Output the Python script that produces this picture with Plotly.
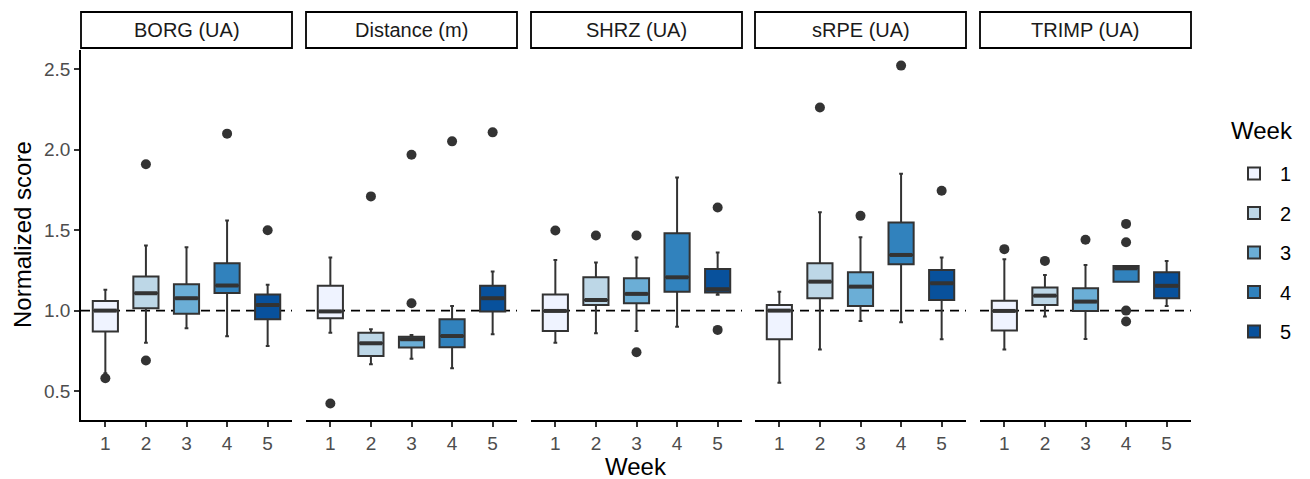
import plotly.graph_objects as go

# ---------------- data ----------------
metrics = ["BORG (UA)", "Distance (m)", "SHRZ (UA)", "sRPE (UA)", "TRIMP (UA)"]
weeks = [1, 2, 3, 4, 5]
week_colors = ["#EFF3FF", "#BDD7E7", "#6BAED6", "#3182BD", "#08519C"]

# per metric (rows) and week (columns)
lower_whisker = [
    [0.61, 0.80, 0.89, 0.84, 0.78],
    [0.863, 0.666, 0.70, 0.641, 0.853],
    [0.80, 0.859, 0.873, 0.90, 1.098],
    [0.552, 0.759, 0.936, 0.927, 0.822],
    [0.759, 0.963, 0.824, 1.18, 1.029],
]
q1 = [
    [0.87, 1.015, 0.98, 1.11, 0.946],
    [0.952, 0.718, 0.77, 0.772, 0.994],
    [0.873, 1.035, 1.046, 1.118, 1.112],
    [0.822, 1.077, 1.029, 1.288, 1.066],
    [0.876, 1.035, 0.998, 1.18, 1.077],
]
median = [
    [1.0, 1.108, 1.077, 1.156, 1.035],
    [0.995, 0.797, 0.822, 0.842, 1.077],
    [0.998, 1.066, 1.104, 1.207, 1.133],
    [1.0, 1.18, 1.149, 1.346, 1.17],
    [0.998, 1.093, 1.056, 1.263, 1.154],
]
q3 = [
    [1.06, 1.212, 1.164, 1.295, 1.10],
    [1.154, 0.863, 0.838, 0.946, 1.154],
    [1.10, 1.207, 1.201, 1.481, 1.259],
    [1.035, 1.295, 1.239, 1.548, 1.253],
    [1.062, 1.143, 1.139, 1.278, 1.239],
]
upper_whisker = [
    [1.13, 1.405, 1.394, 1.56, 1.16],
    [1.33, 0.884, 0.849, 1.029, 1.243],
    [1.315, 1.299, 1.33, 1.828, 1.361],
    [1.118, 1.612, 1.456, 1.851, 1.33],
    [1.32, 1.222, 1.284, 1.278, 1.309],
]
outlier_weeks = [
    [1, 2, 2, 4, 5],
    [1, 2, 3, 3, 4, 5],
    [1, 2, 3, 3, 5, 5],
    [2, 3, 4, 5],
    [1, 2, 3, 4, 4, 4, 4],
]
outlier_values = [
    [0.58, 1.91, 0.69, 2.10, 1.50],
    [0.423, 1.71, 1.969, 1.046, 2.052, 2.108],
    [1.498, 1.467, 1.467, 0.741, 1.641, 0.88],
    [2.263, 1.589, 2.523, 1.745],
    [1.382, 1.309, 1.44, 1.539, 1.425, 1.0, 0.932],
]
y_ticks = [0.5, 1.0, 1.5, 2.0, 2.5]
reference_line = 1.0

# ---------------- layout constants ----------------
W, H = 1310, 479
FONT = "Liberation Sans, Arial, sans-serif"
EDGE = "#333333"
panel_left = [81, 306, 531, 755, 980]
panel_w = 211
plot_top, plot_bottom = 50, 420
strip_top, strip_bottom = 12, 48
box_w = 0.62

fig = go.Figure()

for i, m in enumerate(metrics):
    ax = "" if i == 0 else str(i + 1)
    xa, ya = "x" + ax, "y" + ax
    for j, w in enumerate(weeks):
        fig.add_trace(go.Box(
            x=[w], q1=[q1[i][j]], median=[median[i][j]], q3=[q3[i][j]],
            lowerfence=[lower_whisker[i][j]], upperfence=[upper_whisker[i][j]],
            width=box_w, whiskerwidth=0.15, boxpoints=False,
            fillcolor=week_colors[j], line=dict(color=EDGE, width=2),
            name=str(w), legendgroup=str(w), showlegend=(i == 0),
            xaxis=xa, yaxis=ya,
        ))
        # thicker median line (ggplot style)
        fig.add_trace(go.Scatter(
            x=[w - box_w / 2 + 0.03, w + box_w / 2 - 0.03],
            y=[median[i][j], median[i][j]],
            mode="lines", line=dict(color=EDGE, width=4),
            showlegend=False, hoverinfo="skip", xaxis=xa, yaxis=ya,
        ))
    fig.add_trace(go.Scatter(
        x=outlier_weeks[i], y=outlier_values[i], mode="markers",
        marker=dict(color=EDGE, size=10, line=dict(width=0)),
        showlegend=False, xaxis=xa, yaxis=ya,
    ))

    x0 = panel_left[i] / W
    x1 = (panel_left[i] + panel_w) / W
    y0 = 1 - plot_bottom / H
    y1 = 1 - plot_top / H
    fig.layout["xaxis" + ax] = dict(
        domain=[x0, x1], range=[0.4, 5.6], anchor=ya,
        tickvals=weeks, ticktext=[str(w) for w in weeks],
        showline=True, linecolor="black", linewidth=1.8,
        ticks="outside", ticklen=5, tickwidth=1.8, tickcolor=EDGE,
        tickfont=dict(family=FONT, size=19, color="#4D4D4D"),
        showgrid=False, zeroline=False, fixedrange=True,
    )
    ydict = dict(
        domain=[y0, y1], range=[0.32, 2.62], anchor=xa,
        showgrid=False, zeroline=False, fixedrange=True,
    )
    if i == 0:
        ydict.update(
            tickvals=y_ticks, tickformat=".1f",
            showline=True, linecolor="black", linewidth=1.8,
            ticks="outside", ticklen=5, tickwidth=1.8, tickcolor=EDGE,
            tickfont=dict(family=FONT, size=19, color="#4D4D4D"),
        )
    else:
        ydict.update(showline=False, showticklabels=False, ticks="")
    fig.layout["yaxis" + ax] = ydict

    # dashed reference line
    fig.add_shape(type="line", xref=xa + " domain", yref=ya,
                  x0=0, x1=1, y0=reference_line, y1=reference_line,
                  line=dict(color="black", width=1.8, dash="9px,6px"),
                  layer="below")
    # facet strip
    fig.add_shape(type="rect", xref="paper", yref="paper",
                  x0=x0, x1=x1, y0=1 - strip_bottom / H, y1=1 - strip_top / H,
                  line=dict(color="black", width=1.8), fillcolor="white")
    fig.add_annotation(text=m, xref="paper", yref="paper",
                       x=(x0 + x1) / 2, y=1 - (strip_top + strip_bottom) / 2 / H,
                       showarrow=False, xanchor="center", yanchor="middle",
                       font=dict(family=FONT, size=20, color="#1A1A1A"))

# axis titles
fig.add_annotation(text="Normalized score", xref="paper", yref="paper",
                   x=22 / W, y=1 - 235 / H, textangle=-90, showarrow=False,
                   xanchor="center", yanchor="middle",
                   font=dict(family=FONT, size=24, color="black"))
fig.add_annotation(text="Week", xref="paper", yref="paper",
                   x=(panel_left[0] + panel_left[-1] + panel_w) / 2 / W, y=1 - 466 / H,
                   showarrow=False, xanchor="center", yanchor="middle",
                   font=dict(family=FONT, size=24, color="black"))
# legend title
fig.add_annotation(text="Week", xref="paper", yref="paper",
                   x=1229 / W, y=1 - 130 / H, showarrow=False,
                   xanchor="left", yanchor="middle",
                   font=dict(family=FONT, size=24, color="black"))

fig.update_layout(
    width=W, height=H, template="none",
    margin=dict(l=0, r=0, t=0, b=0, pad=0),
    paper_bgcolor="white", plot_bgcolor="white",
    font=dict(family=FONT),
    legend=dict(
        font=dict(family=FONT, size=20, color="black"),
        x=1228 / W, y=1 - 154 / H, xanchor="left", yanchor="top",
        tracegroupgap=10.5, itemwidth=42, bgcolor="rgba(0,0,0,0)",
    ),
)

fig.write_html(
    "out.html",
    config={"displayModeBar": False},
    post_script="document.body.style.margin='0';document.body.style.overflow='hidden';",
)
